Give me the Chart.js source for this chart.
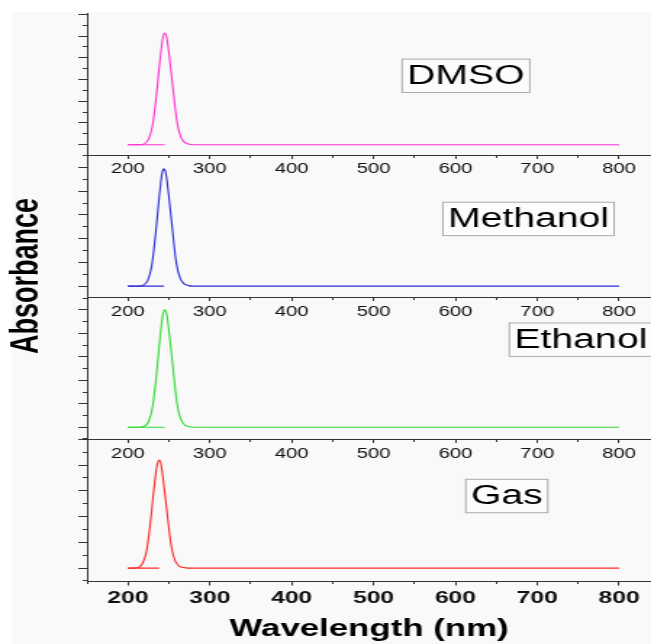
<!DOCTYPE html>
<html>
<head>
<meta charset="utf-8">
<script src="https://cdn.jsdelivr.net/npm/chart.js@4.4.1/dist/chart.umd.min.js"></script>
<style>
  html, body { margin: 0; padding: 0; background: #fff; overflow: hidden; }
  /* the original figure is stretched sideways, so the canvas is too */
  #wrap { width: 449px; height: 644px; transform: scaleX(1.45); transform-origin: 0 0; }
</style>
</head>
<body>
<div id="wrap"><canvas id="uv" width="449" height="644"></canvas></div>
<script>
// --- data (wavelength in nm, absorbance in arbitrary units) ---
const solvents = ['DMSO', 'Methanol', 'Ethanol', 'Gas'];

const dmsoWl = [200, 215, 220, 225, 230, 235, 238, 241, 243, 245, 247, 249, 252, 255, 260, 265, 270, 275, 280, 800];
const dmsoAbs = [0, 0, 0.04, 0.23, 0.87, 2.36, 3.5, 4.5, 4.98, 5.14, 5.0, 4.55, 3.6, 2.6, 1.03, 0.31, 0.08, 0.02, 0, 0];

const methanolWl = [200, 214, 219, 224, 229, 234, 237, 240, 242, 244, 246, 248, 251, 254, 259, 264, 269, 274, 279, 800];
const methanolAbs = [0, 0, 0.04, 0.22, 0.84, 2.27, 3.36, 4.33, 4.79, 4.94, 4.81, 4.37, 3.46, 2.5, 0.99, 0.3, 0.08, 0.02, 0, 0];

const ethanolWl = [200, 215, 220, 225, 230, 235, 238, 241, 243, 245, 247, 249, 252, 255, 260, 265, 270, 275, 280, 800];
const ethanolAbs = [0, 0, 0.04, 0.22, 0.85, 2.3, 3.41, 4.39, 4.86, 5.01, 4.88, 4.44, 3.51, 2.54, 1.0, 0.3, 0.08, 0.02, 0, 0];

const gasWl = [200, 208, 213, 218, 223, 228, 231, 234, 236, 238, 240, 242, 245, 248, 253, 258, 263, 268, 273, 800];
const gasAbs = [0, 0, 0.03, 0.19, 0.71, 1.93, 2.86, 3.68, 4.07, 4.2, 4.09, 3.72, 2.94, 2.12, 0.84, 0.25, 0.07, 0.02, 0, 0];

// short baseline stub drawn from 200 nm up to the band maximum
const stubStart = [200, 200, 200, 200];
const stubEnd = [245, 244, 245, 238];

// --- styling ---
const lineColors = ['#ff2fd0', '#2b2bd6', '#2fd82f', '#ff2626'];
const axisColor = '#333';
const yIds = ['yD', 'yM', 'yE', 'yG'];
const yRange = [[-0.48, 6.06], [-0.47, 5.52], [-0.52, 5.54], [-0.52, 5.0]];
const series = [[dmsoWl, dmsoAbs], [methanolWl, methanolAbs], [ethanolWl, ethanolAbs], [gasWl, gasAbs]];

const isMinor = v => Math.abs(v - Math.round(v / 100) * 100) > 1;   // for x (50 nm steps)
const isMinorY = v => Math.abs(v - Math.round(v)) > 0.01;           // for y (0.5 steps)

const datasets = [];
series.forEach(([wl, abs], i) => {
    datasets.push({
        label: solvents[i],
        data: wl.map((w, k) => ({ x: w, y: abs[k] })),
        yAxisID: yIds[i],
        xAxisID: 'x',
        borderColor: lineColors[i],
        borderWidth: 1.1,
        pointRadius: 0,
        tension: 0.3
    });
    datasets.push({
        label: solvents[i] + ' stub',
        data: [{ x: stubStart[i], y: 0 }, { x: stubEnd[i], y: 0 }],
        yAxisID: yIds[i],
        xAxisID: 'x',
        borderColor: lineColors[i],
        borderWidth: 1.1,
        pointRadius: 0
    });
});

const scales = {};
const yWeights = [4, 3, 2, 1];
yIds.forEach((id, i) => {
    scales[id] = {
        type: 'linear',
        position: 'left',
        stack: 'panels',
        stackWeight: 1,
        weight: yWeights[i],
        min: yRange[i][0],
        max: yRange[i][1],
        ticks: { display: false, stepSize: 0.5, includeBounds: false },
        grid: {
            drawOnChartArea: false,
            tickLength: 6,
            tickColor: axisColor,
            tickBorderDash: ctx => isMinorY(ctx.tick.value) ? [3, 3] : [],
            tickBorderDashOffset: ctx => isMinorY(ctx.tick.value) ? 3 : 0
        },
        border: { color: axisColor, width: 1 },
        afterFit: s => { s.width = 6; }
    };
});

const xTickBase = {
    stepSize: 50,
    includeBounds: false,
    autoSkip: false,
    maxRotation: 0,
    padding: 3,
    callback: v => isMinor(v) ? '' : v
};

// bottom axis, bold labels and title
scales.x = {
    type: 'linear',
    position: 'bottom',
    min: 150,
    max: 839,
    ticks: Object.assign({}, xTickBase, {
        color: '#111',
        font: { family: 'Liberation Sans', size: 17, weight: 'bold' }
    }),
    grid: {
        drawOnChartArea: false,
        tickLength: 4,
        tickColor: axisColor,
        tickBorderDash: ctx => isMinor(ctx.tick.value) ? [2, 10] : []
    },
    border: { color: axisColor, width: 1 },
    title: {
        display: true,
        text: 'Wavelength (nm)',
        color: '#000',
        font: { family: 'Liberation Sans', size: 24, weight: 'bold' },
        padding: { top: 0, bottom: 0 }
    },
    afterFit: s => { s.height = 62.5; }
};

// inner axes along the bottom of the three upper panels
['xD', 'xM', 'xE'].forEach((id, i) => {
    const pos = {};
    pos[yIds[i]] = yRange[i][0];
    scales[id] = {
        type: 'linear',
        axis: 'x',
        position: pos,
        min: 150,
        max: 839,
        ticks: Object.assign({}, xTickBase, {
            color: '#111',
            font: { family: 'Liberation Sans', size: 14 }
        }),
        grid: {
            drawOnChartArea: false,
            tickLength: 3,
            tickColor: axisColor,
            tickBorderDash: ctx => isMinor(ctx.tick.value) ? [2, 10] : []
        },
        border: { color: axisColor, width: 1 }
    };
});

// panel labels: left edge in nm, centre in panel absorbance units
const boxPlaces = [[535, 3.17], [584.7, 2.83], [666, 3.73], [612.7, 2.8]];

const decorations = {
    id: 'decorations',
    beforeDraw(chart) {
        const ctx = chart.ctx;
        ctx.save();
        ctx.fillStyle = '#f9f9f9';
        ctx.fillRect(8.3, 12, chart.width, chart.height);
        ctx.restore();
    },
    afterDraw(chart) {
        const ctx = chart.ctx;
        ctx.save();
        ctx.font = '27px "Liberation Sans"';
        ctx.textBaseline = 'middle';
        solvents.forEach((name, i) => {
            const left = chart.scales.x.getPixelForValue(boxPlaces[i][0]);
            const mid = chart.scales[yIds[i]].getPixelForValue(boxPlaces[i][1]);
            const w = ctx.measureText(name).width + 7;
            ctx.fillStyle = '#fcfcfc';
            ctx.fillRect(left, mid - 16.7, w, 33.4);
            ctx.strokeStyle = '#aaa';
            ctx.lineWidth = 1;
            ctx.strokeRect(left, mid - 16.7, w, 33.4);
            ctx.fillStyle = '#000';
            ctx.fillText(name, left + 3.5, mid + 1);
        });
        // y title
        ctx.translate(19, 276);
        ctx.rotate(-Math.PI / 2);
        ctx.font = 'bold 27px "Liberation Sans"';
        ctx.textAlign = 'center';
        ctx.fillStyle = '#000';
        ctx.fillText('Absorbance', 0, 0);
        ctx.restore();
    }
};

new Chart(document.getElementById('uv'), {
    type: 'line',
    data: { datasets },
    options: {
        responsive: false,
        animation: false,
        layout: { padding: { left: 54, top: 13, right: 0, bottom: 0 } },
        plugins: { legend: { display: false }, tooltip: { enabled: false } },
        scales
    },
    plugins: [decorations]
});
</script>
</body>
</html>
